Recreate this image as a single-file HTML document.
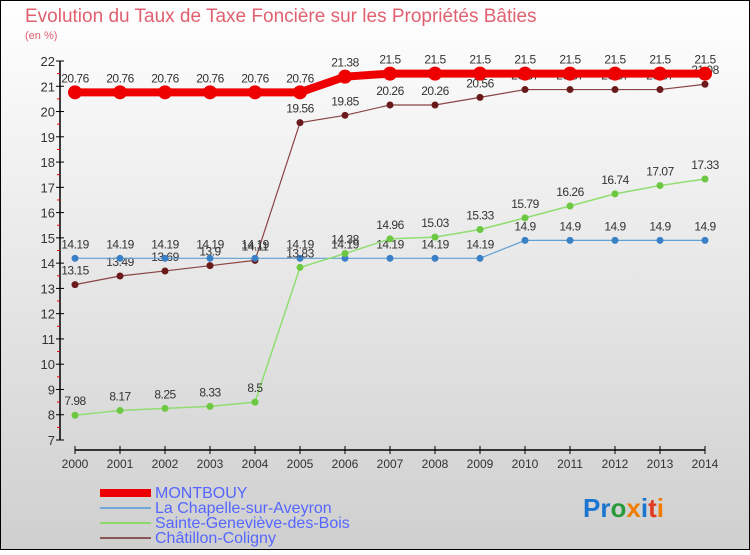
<!DOCTYPE html>
<html><head><meta charset="utf-8"><style>
html,body{margin:0;padding:0}
body{width:750px;height:550px;overflow:hidden;font-family:"Liberation Sans",sans-serif}
</style></head><body>
<svg id="chart" width="750" height="550" xmlns="http://www.w3.org/2000/svg">
<defs><linearGradient id="bg" x1="0" y1="0" x2="0" y2="1"><stop offset="0" stop-color="#ffffff"/><stop offset="1" stop-color="#cfcfcf"/></linearGradient></defs>
<rect x="0.5" y="0.5" width="749" height="549" fill="url(#bg)" stroke="#000" stroke-width="1"/>
<text x="25" y="22" font-size="19" fill="#e06070">Evolution du Taux de Taxe Foncière sur les Propriétés Bâties</text>
<text x="25" y="39" font-size="11" fill="#e06070">(en %)</text>
<g id="axes"></g><g id="series"></g>
<g>
<rect x="100" y="489" width="51" height="8" fill="#e00"/>
<text x="155" y="498" font-size="16" fill="#5566ff">MONTBOUY</text>
<rect x="100" y="507" width="51" height="2" fill="#6fa8d6"/>
<text x="155" y="513" font-size="16" fill="#5566ff">La Chapelle-sur-Aveyron</text>
<rect x="100" y="522" width="51" height="2" fill="#8ed86a"/>
<text x="155" y="528" font-size="16" fill="#5566ff">Sainte-Geneviève-des-Bois</text>
<rect x="100" y="537" width="51" height="2" fill="#8a5555"/>
<text x="155" y="543" font-size="16" fill="#5566ff">Châtillon-Coligny</text>
</g>
<text x="583" y="517" font-size="26" font-weight="bold"><tspan fill="#1a75d1">Pr</tspan><tspan fill="#2a9a3a">o</tspan><tspan fill="#f07d00">x</tspan><tspan fill="#1a75d1">i</tspan><tspan fill="#e03a20">t</tspan><tspan fill="#f07d00">i</tspan></text>
</svg>
<script>
const years=[2000,2001,2002,2003,2004,2005,2006,2007,2008,2009,2010,2011,2012,2013,2014];
const montbouy=[20.76,20.76,20.76,20.76,20.76,20.76,21.38,21.5,21.5,21.5,21.5,21.5,21.5,21.5,21.5];
const chapelle=[14.19,14.19,14.19,14.19,14.19,14.19,14.19,14.19,14.19,14.19,14.9,14.9,14.9,14.9,14.9];
const sainte=[7.98,8.17,8.25,8.33,8.5,13.83,14.38,14.96,15.03,15.33,15.79,16.26,16.74,17.07,17.33];
const chatillon=[13.15,13.49,13.69,13.9,14.11,19.56,19.85,20.26,20.26,20.56,20.87,20.87,20.87,20.87,21.08];
const yTicks=[7,8,9,10,11,12,13,14,15,16,17,18,19,20,21,22];
const NS='http://www.w3.org/2000/svg';
const X=i=>75+i*45;
const Y=v=>440-(v-7)*(379/15);
function mk(t,a,p){const e=document.createElementNS(NS,t);for(const k in a)e.setAttribute(k,a[k]);p.appendChild(e);return e;}
const ax=document.getElementById('axes'),sg=document.getElementById('series');
const yl=mk('line',{x1:60,y1:Y(22),x2:60,y2:Y(7),stroke:'#000','stroke-width':1.5},ax);


yTicks.forEach(v=>{
  mk('line',{x1:56,y1:Y(v),x2:64,y2:Y(v),stroke:'#000'},ax);
  if(v<22)mk('line',{x1:57,y1:Y(v+0.5),x2:60,y2:Y(v+0.5),stroke:'#e00'},ax);
  const t=mk('text',{x:55,y:Y(v)+5,'text-anchor':'end','font-size':13,fill:'#333'},ax);
  
  
  t.textContent=v;
});
const xl=mk('line',{x1:X(0),y1:450,x2:X(14),y2:450,stroke:'#000','stroke-width':1.5},ax);


years.forEach((yr,i)=>{
  mk('line',{x1:X(i),y1:446,x2:X(i),y2:454,stroke:'#000'},ax);
  const t=mk('text',{x:X(i),y:468,'text-anchor':'middle','font-size':12,fill:'#333'},ax);
  
  
  t.textContent=yr;
});
function series(name,vals,color,dot,w,r){
  const g=mk('g',{},sg);
  
  
  mk('polyline',{points:vals.map((v,i)=>X(i)+','+Y(v)).join(' '),fill:'none',stroke:color,'stroke-width':w},g);
  vals.forEach((v,i)=>{
    const c=mk('circle',{cx:X(i),cy:Y(v),r:r,fill:dot},g);
    
    
    const t=mk('text',{x:X(i),y:Y(v)-10,'text-anchor':'middle','font-size':12,fill:'#333','letter-spacing':'-0.5'},g);
    
    
    t.textContent=v;
  });
}
series('chatillon',chatillon,'#8a4444','#6a1a1a',1.2,3.5);
series('chapelle',chapelle,'#5fa0d6','#3a80c6',1.2,3.5);
series('sainte',sainte,'#90dd70','#6cc840',1.5,3.5);
series('montbouy',montbouy,'#e00','#e00',8,7);
</script>
</body></html>
